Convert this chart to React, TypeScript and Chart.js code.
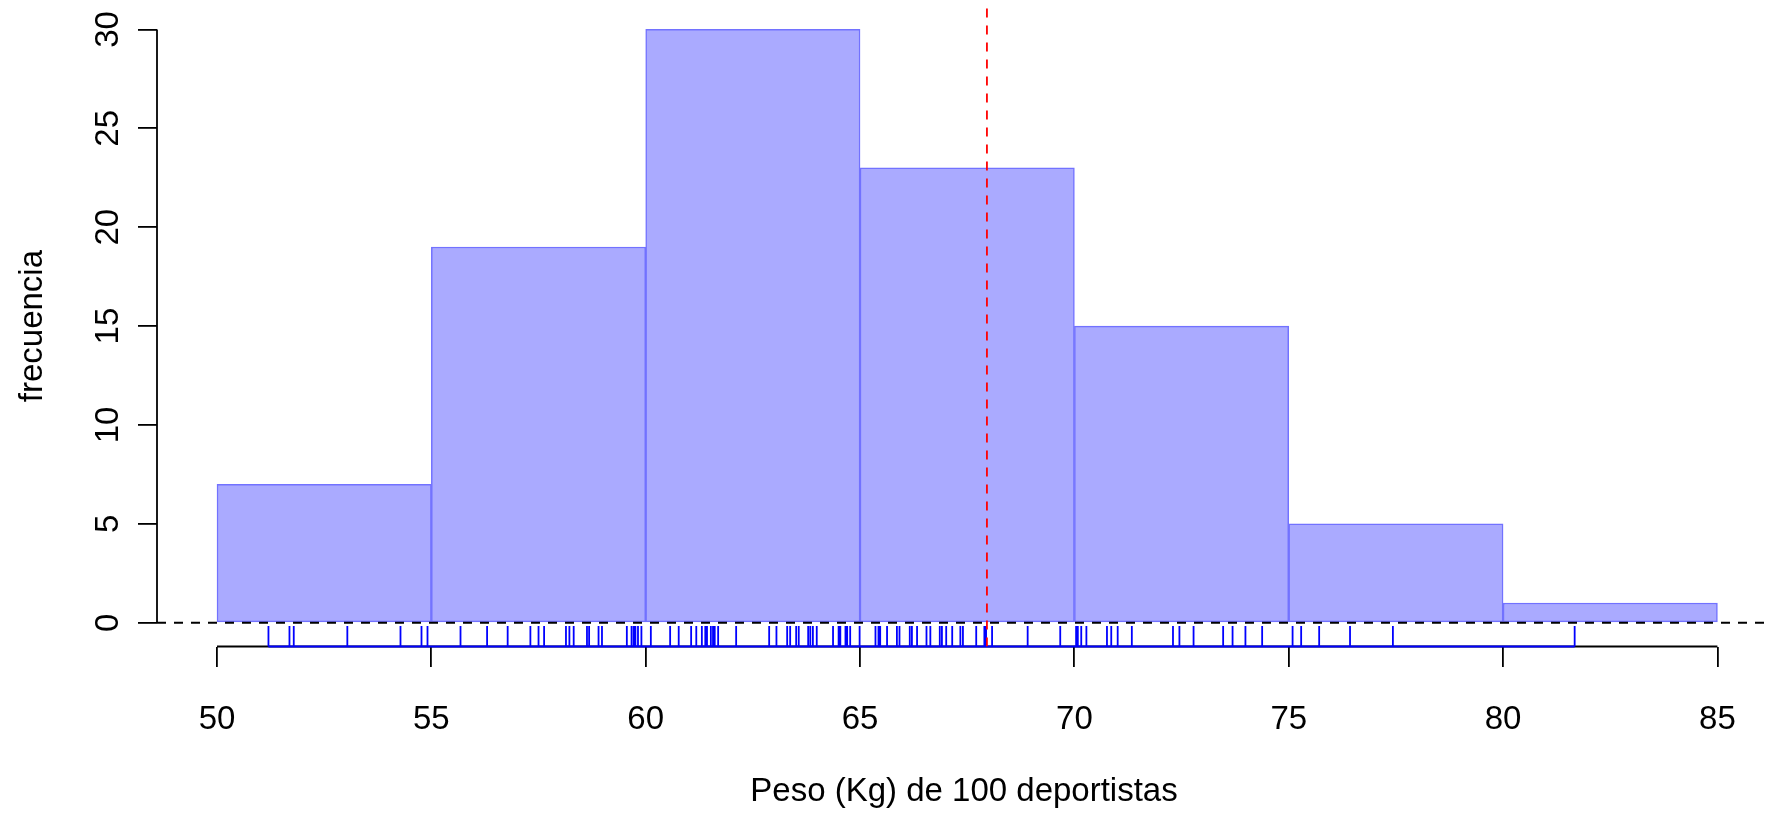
import React, { useEffect, useRef } from "react";
import { Chart, registerables } from "chart.js";

Chart.register(...registerables);

// ---- data ----
const binEdges = [50, 55, 60, 65, 70, 75, 80, 85];
const binCounts = [7, 19, 30, 23, 15, 5, 1];
const xTicks = [50, 55, 60, 65, 70, 75, 80, 85];
const yTicks = [0, 5, 10, 15, 20, 25, 30];
const pesos = [
  51.2, 51.69, 51.79, 53.04, 54.28, 54.77, 54.91,
  55.68, 56.3, 56.78, 57.31, 57.5, 57.63, 58.14, 58.22, 58.32, 58.63, 58.68, 58.9, 58.98,
  59.56, 59.67, 59.72, 59.76, 59.82, 59.9,
  60.12, 60.57, 60.77, 61.06, 61.18, 61.31, 61.39, 61.43, 61.52, 61.57, 61.61, 61.69,
  62.11, 62.88, 63.05, 63.3, 63.37, 63.51, 63.57, 63.79, 63.84, 63.9, 63.99,
  64.37, 64.5, 64.54, 64.66, 64.7, 64.77, 64.99,
  65.36, 65.43, 65.47, 65.63, 65.86, 65.92, 66.16, 66.21, 66.33, 66.55, 66.64, 66.86,
  66.91, 67.01, 67.15, 67.34, 67.4, 67.71, 67.9, 67.94, 68.08, 68.91, 69.67,
  70.04, 70.08, 70.16, 70.28, 70.76, 70.86, 71.01, 71.34, 72.3, 72.45, 72.78, 73.47,
  73.69, 73.99, 74.38,
  75.09, 75.29, 75.71, 76.43, 77.43,
  81.67,
];
const lineaMedia = 67.96;
const xTitle = "Peso (Kg) de 100 deportistas";
const yTitle = "frecuencia";

// axis ranges (R style 4% extension)
const xMin = 48.6;
const xMax = 86.25;
const yMin = -1.2;
const yMax = 31.2;
const rugFrac = 0.032;

const FONT = "'Liberation Sans', Arial, Helvetica, sans-serif";

export default function App() {
  const ref = useRef<HTMLCanvasElement | null>(null);

  useEffect(() => {
    document.body.style.margin = "0";
    const canvas = ref.current;
    if (!canvas) return;

    const histData = binCounts.map((c, i) => ({
      x: (binEdges[i] + binEdges[i + 1]) / 2,
      y: c,
    }));
    const rugTop = yMin + rugFrac * (yMax - yMin);
    const rugMinV = Math.min(...pesos);
    const rugMaxV = Math.max(...pesos);
    const rugData: any[] = [
      { x: rugMinV, y: yMin },
      { x: rugMaxV, y: yMin },
      { x: rugMaxV, y: null },
    ];
    pesos.forEach((v) => {
      rugData.push({ x: v, y: yMin }, { x: v, y: rugTop }, { x: v, y: null });
    });

    const lw = 1.8;
    const dash = [9, 8];

    const chart = new Chart(canvas, {
      type: "bar",
      data: {
        datasets: [
          {
            type: "bar",
            data: histData,
            backgroundColor: "#AAAAFF",
            borderColor: "#7272FF",
            borderWidth: 1.5,
            borderSkipped: false,
            barPercentage: 1,
            categoryPercentage: 1,
            grouped: false,
            order: 6,
          } as any,
          {
            type: "line",
            data: [
              { x: xTicks[0], y: yMin },
              { x: xTicks[xTicks.length - 1], y: yMin },
            ],
            borderColor: "#000000",
            borderWidth: lw,
            pointRadius: 0,
            clip: false,
            order: 5,
          } as any,
          {
            type: "line",
            data: [
              { x: xMin, y: yTicks[0] },
              { x: xMin, y: yTicks[yTicks.length - 1] },
            ],
            borderColor: "#000000",
            borderWidth: lw,
            pointRadius: 0,
            clip: false,
            order: 5,
          } as any,
          {
            type: "line",
            data: [
              { x: xMin, y: 0 },
              { x: xMax, y: 0 },
            ],
            borderColor: "#000000",
            borderWidth: lw,
            borderDash: dash,
            pointRadius: 0,
            order: 4,
          } as any,
          {
            type: "line",
            data: rugData,
            borderColor: "#0000FF",
            borderWidth: lw,
            pointRadius: 0,
            spanGaps: false,
            clip: false,
            order: 3,
          } as any,
          {
            type: "line",
            data: [
              { x: lineaMedia, y: yMin },
              { x: lineaMedia, y: yMax },
            ],
            borderColor: "#FF0000",
            borderWidth: lw,
            borderDash: dash,
            pointRadius: 0,
            order: 2,
          } as any,
        ],
      },
      options: {
        animation: false,
        responsive: false,
        maintainAspectRatio: false,
        layout: { padding: { top: 5.7, left: 0, right: 0, bottom: 0 } },
        plugins: {
          legend: { display: false },
          tooltip: { enabled: false },
        },
        scales: {
          x: {
            type: "linear",
            min: xMin,
            max: xMax,
            offset: false,
            afterBuildTicks: (s: any) => {
              s.ticks = xTicks.map((v) => ({ value: v }));
            },
            afterFit: (s: any) => {
              s.height = 167.5;
              s.paddingLeft = 0;
              s.paddingRight = 0;
            },
            border: { display: false },
            grid: {
              offset: false,
              drawOnChartArea: false,
              drawTicks: true,
              tickLength: 20.5,
              color: "#000000",
              lineWidth: lw,
            },
            ticks: {
              color: "#000000",
              padding: 32.7,
              maxRotation: 0,
              minRotation: 0,
              autoSkip: false,
              font: { family: FONT, size: 33 },
              callback: (v: any) => String(v),
            },
            title: {
              display: true,
              text: xTitle,
              color: "#000000",
              font: { family: FONT, size: 33 },
              padding: { top: 0, bottom: 2.4 },
            },
          },
          y: {
            type: "linear",
            min: yMin,
            max: yMax,
            offset: false,
            afterBuildTicks: (s: any) => {
              s.ticks = yTicks.map((v) => ({ value: v }));
            },
            afterFit: (s: any) => {
              s.width = 157;
              s.paddingTop = 0;
              s.paddingBottom = 0;
            },
            border: { display: false },
            grid: {
              offset: false,
              drawOnChartArea: false,
              drawTicks: true,
              tickLength: 19,
              color: "#000000",
              lineWidth: lw,
            },
            ticks: {
              color: "#000000",
              padding: 11,
              minRotation: 90,
              maxRotation: 90,
              crossAlign: "center",
              autoSkip: false,
              font: { family: FONT, size: 33 },
              callback: (v: any) => String(v),
            },
            title: {
              display: true,
              text: yTitle,
              color: "#000000",
              font: { family: FONT, size: 33 },
              padding: { top: 13, bottom: 0 },
            },
          },
        },
      } as any,
    });

    return () => chart.destroy();
  }, []);

  return (
    <div style={{ width: 1771, height: 814 }}>
      <canvas ref={ref} width={1771} height={814} style={{ display: "block", width: 1771, height: 814 }} />
    </div>
  );
}
